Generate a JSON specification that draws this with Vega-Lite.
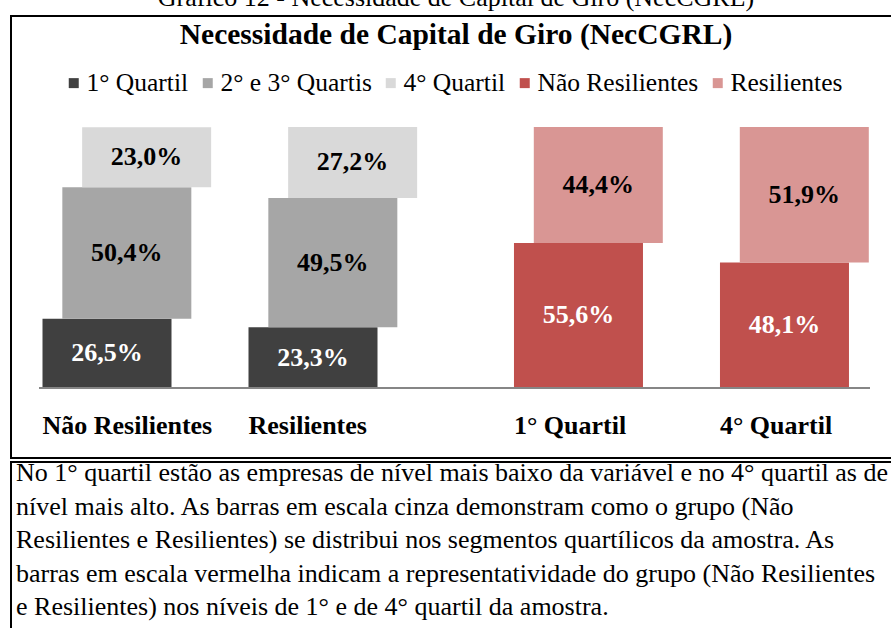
{
  "$schema": "https://vega.github.io/schema/vega-lite/v6.json",
  "background": "white",
  "padding": {"left": 10, "top": -15, "right": 0, "bottom": 0},
  "title": {
    "text": "Gráfico 12 - Necessidade de Capital de Giro (NecCGRL)",
    "font": "Liberation Serif",
    "fontSize": 26,
    "fontWeight": "normal",
    "color": "black",
    "anchor": "middle",
    "offset": 4
  },
  "config": {
    "locale": {"number": {"decimal": ",", "thousands": ".", "grouping": [3], "currency": ["R$", ""]}},
    "view": {"stroke": "black", "strokeWidth": 2},
    "font": "Liberation Serif"
  },
  "spacing": 0,
  "vconcat": [
    {
      "width": 890,
      "height": 442,
      "title": {
        "text": "Necessidade de Capital de Giro (NecCGRL)",
        "font": "Liberation Serif",
        "fontSize": 29.5,
        "fontWeight": "bold",
        "color": "black",
        "anchor": "middle",
        "frame": "group",
        "offset": -34
      },
      "data": {
        "values": [
          {"cat": "Não Resilientes", "seg": "1° Quartil", "ord": 1, "v": 0.265},
          {"cat": "Não Resilientes", "seg": "2° e 3° Quartis", "ord": 2, "v": 0.504},
          {"cat": "Não Resilientes", "seg": "4° Quartil", "ord": 3, "v": 0.230},
          {"cat": "Resilientes", "seg": "1° Quartil", "ord": 1, "v": 0.233},
          {"cat": "Resilientes", "seg": "2° e 3° Quartis", "ord": 2, "v": 0.495},
          {"cat": "Resilientes", "seg": "4° Quartil", "ord": 3, "v": 0.272},
          {"cat": "1° Quartil", "seg": "Não Resilientes", "ord": 1, "v": 0.556},
          {"cat": "1° Quartil", "seg": "Resilientes", "ord": 2, "v": 0.444},
          {"cat": "4° Quartil", "seg": "Não Resilientes", "ord": 1, "v": 0.481},
          {"cat": "4° Quartil", "seg": "Resilientes", "ord": 2, "v": 0.519}
        ]
      },
      "layer": [
        {
          "transform": [
            {"stack": "v", "groupby": ["cat"], "sort": [{"field": "ord", "order": "ascending"}], "as": ["v0", "v1"]}
          ],
          "mark": {"type": "bar", "width": 129},
          "encoding": {
            "x": {
              "field": "cat", "type": "nominal", "axis": null,
              "scale": {"type": "band", "domain": ["Não Resilientes", "Resilientes", "1° Quartil", "4° Quartil"], "paddingInner": 0, "paddingOuter": 0.1602}
            },
            "xOffset": {
              "field": "seg", "type": "nominal",
              "scale": {"type": "point", "domain": ["1° Quartil", "2° e 3° Quartis", "4° Quartil", "Não Resilientes", "Resilientes"], "padding": 0, "range": [63, 142.3]}
            },
            "y": {
              "field": "v0", "type": "quantitative", "axis": null,
              "scale": {"domain": [-0.2682, 1.4253], "nice": false, "zero": false}
            },
            "y2": {"field": "v1"},
            "color": {
              "field": "seg", "type": "nominal",
              "scale": {
                "domain": ["1° Quartil", "2° e 3° Quartis", "4° Quartil", "Não Resilientes", "Resilientes"],
                "range": ["#404040", "#a6a6a6", "#d9d9d9", "#c0504d", "#d99694"]
              },
              "legend": {
                "orient": "none", "legendX": 50, "legendY": 54, "direction": "horizontal",
                "title": null, "symbolType": "square", "symbolSize": 100, "symbolStrokeWidth": 0,
                "labelFont": "Liberation Serif", "labelFontSize": 25.5, "labelColor": "black",
                "labelLimit": 0, "labelOffset": 0, "columnPadding": 6, "padding": 0
              }
            }
          }
        },
        {
          "mark": {"type": "rule", "color": "#868686", "strokeWidth": 1.5, "xOffset": -108, "x2Offset": 105},
          "encoding": {
            "x": {"datum": "Não Resilientes", "type": "nominal"},
            "x2": {"datum": "4° Quartil"},
            "y": {"datum": 0, "type": "quantitative"}
          }
        },
        {
          "transform": [{"filter": "datum.ord === 1"}],
          "mark": {"type": "text", "align": "left", "baseline": "alphabetic", "dx": -64.5, "font": "Liberation Serif", "fontSize": 26, "fontWeight": "bold", "color": "black"},
          "encoding": {
            "x": {"field": "cat", "type": "nominal"},
            "xOffset": {"field": "seg", "type": "nominal"},
            "y": {"datum": -0.1762, "type": "quantitative"},
            "text": {"field": "cat"}
          }
        },
        {
          "mark": {"type": "text", "baseline": "middle", "dx": -40, "font": "Liberation Serif", "fontSize": 26, "fontWeight": "bold", "color": "white"},
          "encoding": {
            "x": {"field": "cat", "type": "nominal"},
            "y": {"field": "v", "type": "quantitative", "stack": "zero", "bandPosition": 0.5},
            "order": {"field": "ord"},
            "detail": {"field": "seg"},
            "text": {"condition": {"test": "datum.seg === '1° Quartil'", "field": "v", "type": "quantitative", "format": ".1%"}, "value": ""}
          }
        },
        {
          "mark": {"type": "text", "baseline": "middle", "dx": -20.2, "font": "Liberation Serif", "fontSize": 26, "fontWeight": "bold", "color": "black"},
          "encoding": {
            "x": {"field": "cat", "type": "nominal"},
            "y": {"field": "v", "type": "quantitative", "stack": "zero", "bandPosition": 0.5},
            "order": {"field": "ord"},
            "detail": {"field": "seg"},
            "text": {"condition": {"test": "datum.seg === '2° e 3° Quartis'", "field": "v", "type": "quantitative", "format": ".1%"}, "value": ""}
          }
        },
        {
          "mark": {"type": "text", "baseline": "middle", "dx": -0.4, "font": "Liberation Serif", "fontSize": 26, "fontWeight": "bold", "color": "black"},
          "encoding": {
            "x": {"field": "cat", "type": "nominal"},
            "y": {"field": "v", "type": "quantitative", "stack": "zero", "bandPosition": 0.5},
            "order": {"field": "ord"},
            "detail": {"field": "seg"},
            "text": {"condition": {"test": "datum.seg === '4° Quartil'", "field": "v", "type": "quantitative", "format": ".1%"}, "value": ""}
          }
        },
        {
          "mark": {"type": "text", "baseline": "middle", "dx": 19.5, "font": "Liberation Serif", "fontSize": 26, "fontWeight": "bold", "color": "white"},
          "encoding": {
            "x": {"field": "cat", "type": "nominal"},
            "y": {"field": "v", "type": "quantitative", "stack": "zero", "bandPosition": 0.5},
            "order": {"field": "ord"},
            "detail": {"field": "seg"},
            "text": {"condition": {"test": "datum.seg === 'Não Resilientes'", "field": "v", "type": "quantitative", "format": ".1%"}, "value": ""}
          }
        },
        {
          "mark": {"type": "text", "baseline": "middle", "dx": 39.3, "font": "Liberation Serif", "fontSize": 26, "fontWeight": "bold", "color": "black"},
          "encoding": {
            "x": {"field": "cat", "type": "nominal"},
            "y": {"field": "v", "type": "quantitative", "stack": "zero", "bandPosition": 0.5},
            "order": {"field": "ord"},
            "detail": {"field": "seg"},
            "text": {"condition": {"test": "datum.seg === 'Resilientes'", "field": "v", "type": "quantitative", "format": ".1%"}, "value": ""}
          }
        }
      ]
    },
    {
      "width": 890,
      "height": 200,
      "data": {
        "values": [
          {"linha": 1, "texto": "No 1° quartil estão as empresas de nível mais baixo da variável e no 4° quartil as de"},
          {"linha": 2, "texto": "nível mais alto. As barras em escala cinza demonstram como o grupo (Não"},
          {"linha": 3, "texto": "Resilientes e Resilientes) se distribui nos segmentos quartílicos da amostra. As"},
          {"linha": 4, "texto": "barras em escala vermelha indicam a representatividade do grupo (Não Resilientes"},
          {"linha": 5, "texto": "e Resilientes) nos níveis de 1° e de 4° quartil da amostra."}
        ]
      },
      "mark": {"type": "text", "align": "left", "baseline": "alphabetic", "font": "Liberation Serif", "fontSize": 26, "color": "black"},
      "encoding": {
        "x": {"value": 5},
        "y": {"field": "linha", "type": "quantitative", "axis": null, "scale": {"domain": [0.4328, 6.403], "reverse": true, "nice": false, "zero": false}},
        "text": {"field": "texto"}
      }
    }
  ]
}
